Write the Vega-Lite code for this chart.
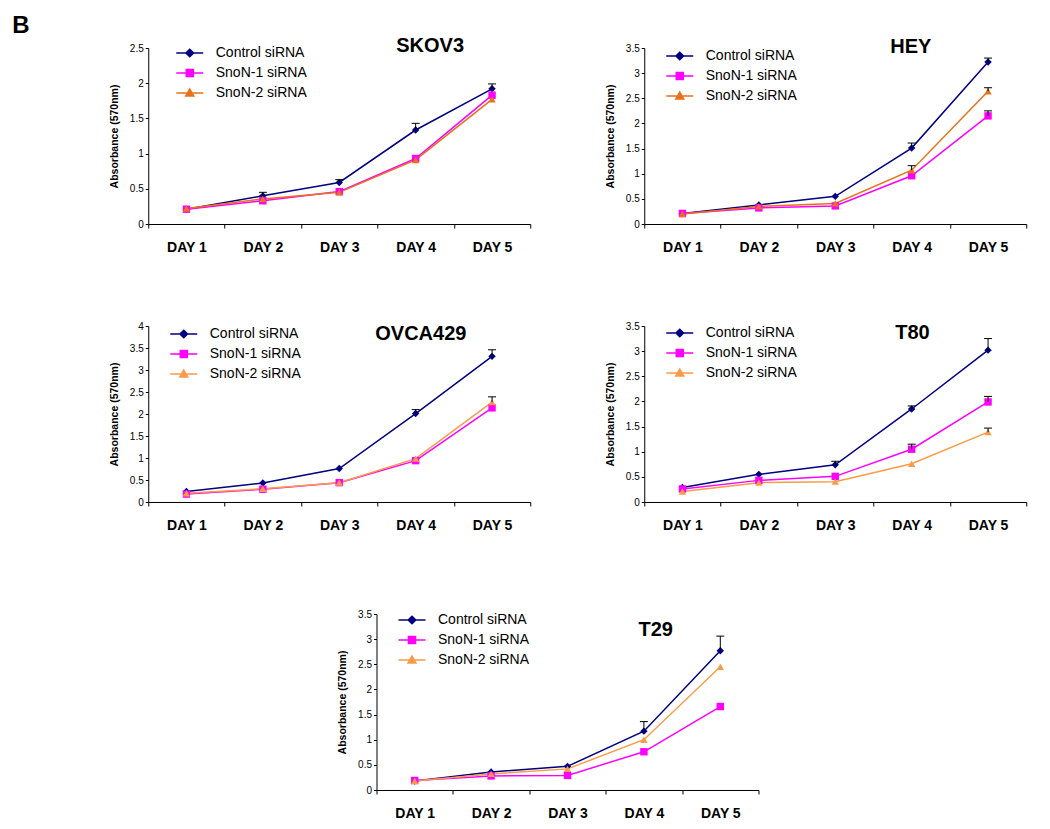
{
  "$schema": "https://vega.github.io/schema/vega-lite/v6.json",
  "padding": {"left": 12, "top": 14, "right": 5, "bottom": 5},
  "title": {"text": "B", "anchor": "start", "frame": "bounds", "fontSize": 24, "fontWeight": "bold", "font": "Liberation Sans", "color": "black", "dx": -97, "offset": -2},
  "config": {
    "font": "Liberation Sans",
    "view": {"stroke": null},
    "axis": {"domainColor": "black", "tickColor": "black", "labelColor": "black", "titleColor": "black", "grid": false, "labelFont": "Liberation Sans", "titleFont": "Liberation Sans"},
    "axisX": {"labelFontSize": 14, "labelFontWeight": "bold", "labelAngle": 0, "tickSize": 4, "labelPadding": 12, "tickBand": "extent"},
    "axisY": {"labelFontSize": 10, "tickSize": 3, "labelPadding": 2, "titleFontSize": 10.5, "titleFontWeight": "bold", "titlePadding": 10, "format": "~g"},
    "legend": {"labelFontSize": 14, "labelColor": "black", "labelFont": "Liberation Sans", "symbolSize": 400, "padding": 0, "rowPadding": 2, "labelOffset": 15, "symbolStrokeWidth": 1.5, "symbolOpacity": 1},
    "title": {"font": "Liberation Sans", "fontWeight": "bold", "color": "black", "fontSize": 20, "anchor": "start", "frame": "group", "baseline": "middle", "offset": -15},
    "line": {"strokeWidth": 1.5},
    "point": {"filled": true, "opacity": 1, "size": 55}
  },
  "datasets": {
    "d": [
      {"p": "SKOV3", "day": "DAY 1", "s": "Control siRNA", "v": 0.21},
      {"p": "SKOV3", "day": "DAY 2", "s": "Control siRNA", "v": 0.40, "u": 0.45},
      {"p": "SKOV3", "day": "DAY 3", "s": "Control siRNA", "v": 0.59, "u": 0.63},
      {"p": "SKOV3", "day": "DAY 4", "s": "Control siRNA", "v": 1.335, "u": 1.43},
      {"p": "SKOV3", "day": "DAY 5", "s": "Control siRNA", "v": 1.92, "u": 1.99},
      {"p": "SKOV3", "day": "DAY 1", "s": "SnoN-1 siRNA", "v": 0.21},
      {"p": "SKOV3", "day": "DAY 2", "s": "SnoN-1 siRNA", "v": 0.33},
      {"p": "SKOV3", "day": "DAY 3", "s": "SnoN-1 siRNA", "v": 0.46},
      {"p": "SKOV3", "day": "DAY 4", "s": "SnoN-1 siRNA", "v": 0.93},
      {"p": "SKOV3", "day": "DAY 5", "s": "SnoN-1 siRNA", "v": 1.83},
      {"p": "SKOV3", "day": "DAY 1", "s": "SnoN-2 siRNA", "v": 0.22},
      {"p": "SKOV3", "day": "DAY 2", "s": "SnoN-2 siRNA", "v": 0.355},
      {"p": "SKOV3", "day": "DAY 3", "s": "SnoN-2 siRNA", "v": 0.45},
      {"p": "SKOV3", "day": "DAY 4", "s": "SnoN-2 siRNA", "v": 0.91},
      {"p": "SKOV3", "day": "DAY 5", "s": "SnoN-2 siRNA", "v": 1.77},
      {"p": "HEY", "day": "DAY 1", "s": "Control siRNA", "v": 0.21},
      {"p": "HEY", "day": "DAY 2", "s": "Control siRNA", "v": 0.38},
      {"p": "HEY", "day": "DAY 3", "s": "Control siRNA", "v": 0.55},
      {"p": "HEY", "day": "DAY 4", "s": "Control siRNA", "v": 1.51, "u": 1.61},
      {"p": "HEY", "day": "DAY 5", "s": "Control siRNA", "v": 3.22, "u": 3.30},
      {"p": "HEY", "day": "DAY 1", "s": "SnoN-1 siRNA", "v": 0.21},
      {"p": "HEY", "day": "DAY 2", "s": "SnoN-1 siRNA", "v": 0.32},
      {"p": "HEY", "day": "DAY 3", "s": "SnoN-1 siRNA", "v": 0.36},
      {"p": "HEY", "day": "DAY 4", "s": "SnoN-1 siRNA", "v": 0.96},
      {"p": "HEY", "day": "DAY 5", "s": "SnoN-1 siRNA", "v": 2.15, "u": 2.25},
      {"p": "HEY", "day": "DAY 1", "s": "SnoN-2 siRNA", "v": 0.20},
      {"p": "HEY", "day": "DAY 2", "s": "SnoN-2 siRNA", "v": 0.35},
      {"p": "HEY", "day": "DAY 3", "s": "SnoN-2 siRNA", "v": 0.41},
      {"p": "HEY", "day": "DAY 4", "s": "SnoN-2 siRNA", "v": 1.07, "u": 1.16},
      {"p": "HEY", "day": "DAY 5", "s": "SnoN-2 siRNA", "v": 2.64, "u": 2.71},
      {"p": "OVCA429", "day": "DAY 1", "s": "Control siRNA", "v": 0.24},
      {"p": "OVCA429", "day": "DAY 2", "s": "Control siRNA", "v": 0.43},
      {"p": "OVCA429", "day": "DAY 3", "s": "Control siRNA", "v": 0.76},
      {"p": "OVCA429", "day": "DAY 4", "s": "Control siRNA", "v": 2.01, "u": 2.10},
      {"p": "OVCA429", "day": "DAY 5", "s": "Control siRNA", "v": 3.31, "u": 3.46},
      {"p": "OVCA429", "day": "DAY 1", "s": "SnoN-1 siRNA", "v": 0.18},
      {"p": "OVCA429", "day": "DAY 2", "s": "SnoN-1 siRNA", "v": 0.29},
      {"p": "OVCA429", "day": "DAY 3", "s": "SnoN-1 siRNA", "v": 0.44},
      {"p": "OVCA429", "day": "DAY 4", "s": "SnoN-1 siRNA", "v": 0.94},
      {"p": "OVCA429", "day": "DAY 5", "s": "SnoN-1 siRNA", "v": 2.14},
      {"p": "OVCA429", "day": "DAY 1", "s": "SnoN-2 siRNA", "v": 0.20},
      {"p": "OVCA429", "day": "DAY 2", "s": "SnoN-2 siRNA", "v": 0.30},
      {"p": "OVCA429", "day": "DAY 3", "s": "SnoN-2 siRNA", "v": 0.44},
      {"p": "OVCA429", "day": "DAY 4", "s": "SnoN-2 siRNA", "v": 0.985},
      {"p": "OVCA429", "day": "DAY 5", "s": "SnoN-2 siRNA", "v": 2.27, "u": 2.39},
      {"p": "T80", "day": "DAY 1", "s": "Control siRNA", "v": 0.29},
      {"p": "T80", "day": "DAY 2", "s": "Control siRNA", "v": 0.55},
      {"p": "T80", "day": "DAY 3", "s": "Control siRNA", "v": 0.74, "u": 0.81},
      {"p": "T80", "day": "DAY 4", "s": "Control siRNA", "v": 1.85, "u": 1.91},
      {"p": "T80", "day": "DAY 5", "s": "Control siRNA", "v": 3.02, "u": 3.25},
      {"p": "T80", "day": "DAY 1", "s": "SnoN-1 siRNA", "v": 0.26},
      {"p": "T80", "day": "DAY 2", "s": "SnoN-1 siRNA", "v": 0.43},
      {"p": "T80", "day": "DAY 3", "s": "SnoN-1 siRNA", "v": 0.51},
      {"p": "T80", "day": "DAY 4", "s": "SnoN-1 siRNA", "v": 1.05, "u": 1.15},
      {"p": "T80", "day": "DAY 5", "s": "SnoN-1 siRNA", "v": 1.99, "u": 2.10},
      {"p": "T80", "day": "DAY 1", "s": "SnoN-2 siRNA", "v": 0.21},
      {"p": "T80", "day": "DAY 2", "s": "SnoN-2 siRNA", "v": 0.385},
      {"p": "T80", "day": "DAY 3", "s": "SnoN-2 siRNA", "v": 0.405},
      {"p": "T80", "day": "DAY 4", "s": "SnoN-2 siRNA", "v": 0.76},
      {"p": "T80", "day": "DAY 5", "s": "SnoN-2 siRNA", "v": 1.39, "u": 1.47},
      {"p": "T29", "day": "DAY 1", "s": "Control siRNA", "v": 0.18},
      {"p": "T29", "day": "DAY 2", "s": "Control siRNA", "v": 0.36},
      {"p": "T29", "day": "DAY 3", "s": "Control siRNA", "v": 0.47},
      {"p": "T29", "day": "DAY 4", "s": "Control siRNA", "v": 1.17, "u": 1.36},
      {"p": "T29", "day": "DAY 5", "s": "Control siRNA", "v": 2.77, "u": 3.06},
      {"p": "T29", "day": "DAY 1", "s": "SnoN-1 siRNA", "v": 0.19},
      {"p": "T29", "day": "DAY 2", "s": "SnoN-1 siRNA", "v": 0.28},
      {"p": "T29", "day": "DAY 3", "s": "SnoN-1 siRNA", "v": 0.29},
      {"p": "T29", "day": "DAY 4", "s": "SnoN-1 siRNA", "v": 0.76},
      {"p": "T29", "day": "DAY 5", "s": "SnoN-1 siRNA", "v": 1.66},
      {"p": "T29", "day": "DAY 1", "s": "SnoN-2 siRNA", "v": 0.18},
      {"p": "T29", "day": "DAY 2", "s": "SnoN-2 siRNA", "v": 0.32},
      {"p": "T29", "day": "DAY 3", "s": "SnoN-2 siRNA", "v": 0.42},
      {"p": "T29", "day": "DAY 4", "s": "SnoN-2 siRNA", "v": 1.0},
      {"p": "T29", "day": "DAY 5", "s": "SnoN-2 siRNA", "v": 2.45}
    ]
  },
  "center": true,
  "spacing": 77,
  "resolve": {"scale": {"color": "independent", "fill": "independent", "stroke": "independent", "shape": "independent"}},
  "vconcat": [
    {
      "spacing": 67,
      "resolve": {"scale": {"color": "independent", "fill": "independent", "stroke": "independent", "shape": "independent"}},
      "vconcat": [
        {
          "spacing": 74,
          "resolve": {"scale": {"color": "independent", "fill": "independent", "stroke": "independent", "shape": "independent"}},
          "hconcat": [
            {
              "data": {"name": "d"},
              "transform": [{"filter": "datum.p === 'SKOV3'"}],
              "width": 382, "height": 176,
              "title": {"text": "SKOV3", "dx": 248, "dy": -1},
              "encoding": {
                "x": {"field": "day", "type": "nominal", "title": null, "scale": {"paddingInner": 0, "paddingOuter": 0}},
                "y": {"field": "v", "type": "quantitative", "title": "Absorbance (570nm)", "scale": {"domain": [0, 2.5], "nice": false}, "axis": {"values": [0, 0.5, 1, 1.5, 2, 2.5]}},
                "color": {"field": "s", "type": "nominal", "legend": null, "scale": {"range": ["#000080", "#FF00FF", "#E8711A"]}}
              },
              "layer": [
                {"mark": {"type": "line"}, "encoding": {}},
                {"transform": [{"filter": "datum.s === 'Control siRNA'"}], "mark": {"type": "point", "shape": "diamond"}},
                {"transform": [{"filter": "datum.s === 'SnoN-1 siRNA'"}], "mark": {"type": "point", "shape": "square"}},
                {"transform": [{"filter": "datum.s === 'SnoN-2 siRNA'"}], "mark": {"type": "point", "shape": "triangle-up"}},
                {"transform": [{"filter": "isValid(datum.u)"}], "mark": {"type": "rule", "strokeWidth": 1}, "encoding": {"y2": {"field": "u"}, "color": {"value": "black"}}},
                {"transform": [{"filter": "isValid(datum.u)"}], "mark": {"type": "tick", "size": 8, "thickness": 1, "opacity": 1}, "encoding": {"y": {"field": "u", "type": "quantitative", "title": "Absorbance (570nm)"}, "color": {"value": "black"}}},
                {"transform": [{"filter": "false"}], "mark": {"type": "point", "filled": true},
                  "encoding": {
                    "fill": {"field": "s", "type": "nominal", "scale": {"domain": ["Control siRNA", "SnoN-1 siRNA", "SnoN-2 siRNA"], "range": ["#000080", "#FF00FF", "#E8711A"]}, "legend": {"title": null, "orient": "none", "legendX": 30.5, "legendY": -6}},
                    "stroke": {"field": "s", "type": "nominal", "scale": {"domain": ["Control siRNA", "SnoN-1 siRNA", "SnoN-2 siRNA"], "range": ["#000080", "#FF00FF", "#E8711A"]}, "legend": {"title": null, "orient": "none", "legendX": 30.5, "legendY": -6}},
                    "shape": {"field": "s", "type": "nominal", "scale": {"domain": ["Control siRNA", "SnoN-1 siRNA", "SnoN-2 siRNA"], "range": ["M-1.35,0H1.35M0,-0.38L0.38,0L0,0.38L-0.38,0Z", "M-1.35,0H1.35M-0.35,-0.35H0.35V0.35H-0.35Z", "M-1.35,0H1.35M0,-0.4L0.4,0.3H-0.4Z"]}, "legend": {"title": null, "orient": "none", "legendX": 30.5, "legendY": -6}}
                  }}
              ]
            },
            {
              "data": {"name": "d"},
              "transform": [{"filter": "datum.p === 'HEY'"}],
              "width": 382, "height": 176,
              "title": {"text": "HEY", "dx": 246, "dy": -1},
              "encoding": {
                "x": {"field": "day", "type": "nominal", "title": null, "scale": {"paddingInner": 0, "paddingOuter": 0}},
                "y": {"field": "v", "type": "quantitative", "title": "Absorbance (570nm)", "scale": {"domain": [0, 3.5], "nice": false}, "axis": {"values": [0, 0.5, 1, 1.5, 2, 2.5, 3, 3.5]}},
                "color": {"field": "s", "type": "nominal", "legend": null, "scale": {"range": ["#000080", "#FF00FF", "#E8711A"]}}
              },
              "layer": [
                {"mark": {"type": "line"}, "encoding": {}},
                {"transform": [{"filter": "datum.s === 'Control siRNA'"}], "mark": {"type": "point", "shape": "diamond"}},
                {"transform": [{"filter": "datum.s === 'SnoN-1 siRNA'"}], "mark": {"type": "point", "shape": "square"}},
                {"transform": [{"filter": "datum.s === 'SnoN-2 siRNA'"}], "mark": {"type": "point", "shape": "triangle-up"}},
                {"transform": [{"filter": "isValid(datum.u)"}], "mark": {"type": "rule", "strokeWidth": 1}, "encoding": {"y2": {"field": "u"}, "color": {"value": "black"}}},
                {"transform": [{"filter": "isValid(datum.u)"}], "mark": {"type": "tick", "size": 8, "thickness": 1, "opacity": 1}, "encoding": {"y": {"field": "u", "type": "quantitative", "title": "Absorbance (570nm)"}, "color": {"value": "black"}}},
                {"transform": [{"filter": "false"}], "mark": {"type": "point", "filled": true},
                  "encoding": {
                    "fill": {"field": "s", "type": "nominal", "scale": {"domain": ["Control siRNA", "SnoN-1 siRNA", "SnoN-2 siRNA"], "range": ["#000080", "#FF00FF", "#E8711A"]}, "legend": {"title": null, "orient": "none", "legendX": 24.5, "legendY": -3}},
                    "stroke": {"field": "s", "type": "nominal", "scale": {"domain": ["Control siRNA", "SnoN-1 siRNA", "SnoN-2 siRNA"], "range": ["#000080", "#FF00FF", "#E8711A"]}, "legend": {"title": null, "orient": "none", "legendX": 24.5, "legendY": -3}},
                    "shape": {"field": "s", "type": "nominal", "scale": {"domain": ["Control siRNA", "SnoN-1 siRNA", "SnoN-2 siRNA"], "range": ["M-1.35,0H1.35M0,-0.38L0.38,0L0,0.38L-0.38,0Z", "M-1.35,0H1.35M-0.35,-0.35H0.35V0.35H-0.35Z", "M-1.35,0H1.35M0,-0.4L0.4,0.3H-0.4Z"]}, "legend": {"title": null, "orient": "none", "legendX": 24.5, "legendY": -3}}
                  }}
              ]
            }
          ]
        },
        {
          "spacing": 74,
          "resolve": {"scale": {"color": "independent", "fill": "independent", "stroke": "independent", "shape": "independent"}},
          "hconcat": [
            {
              "data": {"name": "d"},
              "transform": [{"filter": "datum.p === 'OVCA429'"}],
              "width": 382, "height": 176,
              "title": {"text": "OVCA429", "dx": 227, "dy": 8},
              "encoding": {
                "x": {"field": "day", "type": "nominal", "title": null, "scale": {"paddingInner": 0, "paddingOuter": 0}},
                "y": {"field": "v", "type": "quantitative", "title": "Absorbance (570nm)", "scale": {"domain": [0, 4], "nice": false}, "axis": {"values": [0, 0.5, 1, 1.5, 2, 2.5, 3, 3.5, 4]}},
                "color": {"field": "s", "type": "nominal", "legend": null, "scale": {"range": ["#000080", "#FF00FF", "#FA9B4A"]}}
              },
              "layer": [
                {"mark": {"type": "line"}, "encoding": {}},
                {"transform": [{"filter": "datum.s === 'Control siRNA'"}], "mark": {"type": "point", "shape": "diamond"}},
                {"transform": [{"filter": "datum.s === 'SnoN-1 siRNA'"}], "mark": {"type": "point", "shape": "square"}},
                {"transform": [{"filter": "datum.s === 'SnoN-2 siRNA'"}], "mark": {"type": "point", "shape": "triangle-up"}},
                {"transform": [{"filter": "isValid(datum.u)"}], "mark": {"type": "rule", "strokeWidth": 1}, "encoding": {"y2": {"field": "u"}, "color": {"value": "black"}}},
                {"transform": [{"filter": "isValid(datum.u)"}], "mark": {"type": "tick", "size": 8, "thickness": 1, "opacity": 1}, "encoding": {"y": {"field": "u", "type": "quantitative", "title": "Absorbance (570nm)"}, "color": {"value": "black"}}},
                {"transform": [{"filter": "false"}], "mark": {"type": "point", "filled": true},
                  "encoding": {
                    "fill": {"field": "s", "type": "nominal", "scale": {"domain": ["Control siRNA", "SnoN-1 siRNA", "SnoN-2 siRNA"], "range": ["#000080", "#FF00FF", "#FA9B4A"]}, "legend": {"title": null, "orient": "none", "legendX": 24.5, "legendY": -3}},
                    "stroke": {"field": "s", "type": "nominal", "scale": {"domain": ["Control siRNA", "SnoN-1 siRNA", "SnoN-2 siRNA"], "range": ["#000080", "#FF00FF", "#FA9B4A"]}, "legend": {"title": null, "orient": "none", "legendX": 24.5, "legendY": -3}},
                    "shape": {"field": "s", "type": "nominal", "scale": {"domain": ["Control siRNA", "SnoN-1 siRNA", "SnoN-2 siRNA"], "range": ["M-1.35,0H1.35M0,-0.38L0.38,0L0,0.38L-0.38,0Z", "M-1.35,0H1.35M-0.35,-0.35H0.35V0.35H-0.35Z", "M-1.35,0H1.35M0,-0.4L0.4,0.3H-0.4Z"]}, "legend": {"title": null, "orient": "none", "legendX": 24.5, "legendY": -3}}
                  }}
              ]
            },
            {
              "data": {"name": "d"},
              "transform": [{"filter": "datum.p === 'T80'"}],
              "width": 382, "height": 176,
              "title": {"text": "T80", "dx": 251, "dy": 7},
              "encoding": {
                "x": {"field": "day", "type": "nominal", "title": null, "scale": {"paddingInner": 0, "paddingOuter": 0}},
                "y": {"field": "v", "type": "quantitative", "title": "Absorbance (570nm)", "scale": {"domain": [0, 3.5], "nice": false}, "axis": {"values": [0, 0.5, 1, 1.5, 2, 2.5, 3, 3.5]}},
                "color": {"field": "s", "type": "nominal", "legend": null, "scale": {"range": ["#000080", "#FF00FF", "#FA9B4A"]}}
              },
              "layer": [
                {"mark": {"type": "line"}, "encoding": {}},
                {"transform": [{"filter": "datum.s === 'Control siRNA'"}], "mark": {"type": "point", "shape": "diamond"}},
                {"transform": [{"filter": "datum.s === 'SnoN-1 siRNA'"}], "mark": {"type": "point", "shape": "square"}},
                {"transform": [{"filter": "datum.s === 'SnoN-2 siRNA'"}], "mark": {"type": "point", "shape": "triangle-up"}},
                {"transform": [{"filter": "isValid(datum.u)"}], "mark": {"type": "rule", "strokeWidth": 1}, "encoding": {"y2": {"field": "u"}, "color": {"value": "black"}}},
                {"transform": [{"filter": "isValid(datum.u)"}], "mark": {"type": "tick", "size": 8, "thickness": 1, "opacity": 1}, "encoding": {"y": {"field": "u", "type": "quantitative", "title": "Absorbance (570nm)"}, "color": {"value": "black"}}},
                {"transform": [{"filter": "false"}], "mark": {"type": "point", "filled": true},
                  "encoding": {
                    "fill": {"field": "s", "type": "nominal", "scale": {"domain": ["Control siRNA", "SnoN-1 siRNA", "SnoN-2 siRNA"], "range": ["#000080", "#FF00FF", "#FA9B4A"]}, "legend": {"title": null, "orient": "none", "legendX": 24.5, "legendY": -4}},
                    "stroke": {"field": "s", "type": "nominal", "scale": {"domain": ["Control siRNA", "SnoN-1 siRNA", "SnoN-2 siRNA"], "range": ["#000080", "#FF00FF", "#FA9B4A"]}, "legend": {"title": null, "orient": "none", "legendX": 24.5, "legendY": -4}},
                    "shape": {"field": "s", "type": "nominal", "scale": {"domain": ["Control siRNA", "SnoN-1 siRNA", "SnoN-2 siRNA"], "range": ["M-1.35,0H1.35M0,-0.38L0.38,0L0,0.38L-0.38,0Z", "M-1.35,0H1.35M-0.35,-0.35H0.35V0.35H-0.35Z", "M-1.35,0H1.35M0,-0.4L0.4,0.3H-0.4Z"]}, "legend": {"title": null, "orient": "none", "legendX": 24.5, "legendY": -4}}
                  }}
              ]
            }
          ]
        }
      ]
    },
    {
      "spacing": 9,
      "hconcat": [
        {
          "data": {"name": "d"},
          "transform": [{"filter": "datum.p === 'T29'"}],
          "width": 382, "height": 176,
          "title": {"text": "T29", "dx": 262, "dy": 16},
          "encoding": {
            "x": {"field": "day", "type": "nominal", "title": null, "scale": {"paddingInner": 0, "paddingOuter": 0}},
            "y": {"field": "v", "type": "quantitative", "title": "Absorbance (570nm)", "scale": {"domain": [0, 3.5], "nice": false}, "axis": {"values": [0, 0.5, 1, 1.5, 2, 2.5, 3, 3.5]}},
            "color": {"field": "s", "type": "nominal", "legend": null, "scale": {"range": ["#000080", "#FF00FF", "#FA9B4A"]}}
          },
          "layer": [
            {"mark": {"type": "line"}, "encoding": {}},
            {"transform": [{"filter": "datum.s === 'Control siRNA'"}], "mark": {"type": "point", "shape": "diamond"}},
            {"transform": [{"filter": "datum.s === 'SnoN-1 siRNA'"}], "mark": {"type": "point", "shape": "square"}},
            {"transform": [{"filter": "datum.s === 'SnoN-2 siRNA'"}], "mark": {"type": "point", "shape": "triangle-up"}},
            {"transform": [{"filter": "isValid(datum.u)"}], "mark": {"type": "rule", "strokeWidth": 1}, "encoding": {"y2": {"field": "u"}, "color": {"value": "black"}}},
            {"transform": [{"filter": "isValid(datum.u)"}], "mark": {"type": "tick", "size": 8, "thickness": 1, "opacity": 1}, "encoding": {"y": {"field": "u", "type": "quantitative", "title": "Absorbance (570nm)"}, "color": {"value": "black"}}},
            {"transform": [{"filter": "false"}], "mark": {"type": "point", "filled": true},
              "encoding": {
                "fill": {"field": "s", "type": "nominal", "scale": {"domain": ["Control siRNA", "SnoN-1 siRNA", "SnoN-2 siRNA"], "range": ["#000080", "#FF00FF", "#FA9B4A"]}, "legend": {"title": null, "orient": "none", "legendX": 24.5, "legendY": -5}},
                "stroke": {"field": "s", "type": "nominal", "scale": {"domain": ["Control siRNA", "SnoN-1 siRNA", "SnoN-2 siRNA"], "range": ["#000080", "#FF00FF", "#FA9B4A"]}, "legend": {"title": null, "orient": "none", "legendX": 24.5, "legendY": -5}},
                "shape": {"field": "s", "type": "nominal", "scale": {"domain": ["Control siRNA", "SnoN-1 siRNA", "SnoN-2 siRNA"], "range": ["M-1.35,0H1.35M0,-0.38L0.38,0L0,0.38L-0.38,0Z", "M-1.35,0H1.35M-0.35,-0.35H0.35V0.35H-0.35Z", "M-1.35,0H1.35M0,-0.4L0.4,0.3H-0.4Z"]}, "legend": {"title": null, "orient": "none", "legendX": 24.5, "legendY": -5}}
              }}
          ]
        },
        {
          "data": {"values": []},
          "mark": {"type": "point", "opacity": 0},
          "width": 30, "height": 10
        }
      ]
    }
  ]
}
